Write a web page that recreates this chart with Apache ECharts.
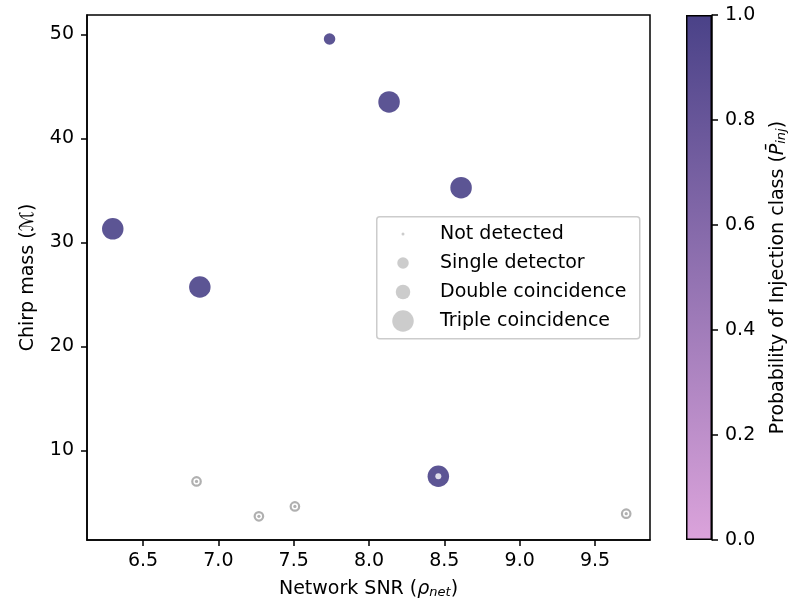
<!DOCTYPE html>
<html><head><meta charset="utf-8">
<script src="https://cdn.jsdelivr.net/npm/echarts@6/dist/echarts.min.js"></script>
<style>html,body{margin:0;padding:0;background:#fff}#c{width:788px;height:600px}</style>
</head><body><div id="c"></div>
<script>
// ---- data ----
const detSNR   = [6.299, 6.877, 7.738, 8.133, 8.611, 8.460];
const detChirp = [31.3, 25.7, 49.55, 43.5, 35.25, 7.5];
const detProb  = [1.0, 1.0, 1.0, 1.0, 1.0, 1.0];
const detClass = [3, 3, 1, 3, 3, 3]; // index into classNames
const detFlag  = [0, 0, 0, 0, 0, 1];
const undetSNR   = [6.855, 7.269, 7.508, 9.707];
const undetChirp = [7.0, 3.65, 4.6, 3.9];
const xTicks = [6.5, 7.0, 7.5, 8.0, 8.5, 9.0, 9.5];
const yTicks = [10, 20, 30, 40, 50];
const cbTicks = [0, 0.2, 0.4, 0.6, 0.8, 1.0];
const classNames = ['Not detected', 'Single detector', 'Double coincidence', 'Triple coincidence'];

// ---- styles ----
const classSizes = [3, 11.5, 14.5, 21.5];
const cLow = '#dba3db', cHigh = '#4a4288';
const grayLegend = '#bfbfbf', grayRing = '#9c9c9c';
const FONT = 'DejaVu Sans';
const FS = 19;

const chart = echarts.init(document.getElementById('c'), null, {renderer: 'canvas'});

const detData = detSNR.map((x, i) => [x, detChirp[i], detProb[i], detClass[i]]);
const flagData = detSNR.map((x, i) => [x, detChirp[i]]).filter((d, i) => detFlag[i]);
const undetData = undetSNR.map((x, i) => [x, undetChirp[i]]);

const legendRowsY = [234, 263, 292, 321];
const legends = classNames.map((n, i) => ({
  data: [{name: n, icon: 'circle'}], left: 403 - classSizes[i] / 2, top: legendRowsY[i] - 12, orient: 'vertical', padding: 0,
  itemWidth: 64, itemHeight: classSizes[i], itemGap: 5, selectedMode: false, z: 6,
  textStyle: {fontFamily: FONT, fontSize: FS, color: '#000', lineHeight: 24}
}));

const legendSeries = classNames.map((n, i) => ({
  name: n, type: 'scatter', data: [], itemStyle: {color: grayLegend}, symbol: 'circle'
}));

const richSub = {
  it: {fontSize: FS, fontStyle: 'italic', fontFamily: FONT},
  sub: {fontSize: 13, fontStyle: 'italic', fontFamily: FONT, verticalAlign: 'bottom', lineHeight: 13, padding: [10, 0, 0, 0]}
};

const option = {
  animation: false,
  backgroundColor: '#fff',
  textStyle: {fontFamily: FONT},
  grid: [
    {left: 87, right: 138, top: 15, bottom: 60, show: true, borderColor: '#000', borderWidth: 1.5, outerBoundsMode: 'none', containLabel: false},
    {left: 686, width: 26, top: 15, bottom: 60, show: false, outerBoundsMode: 'none', containLabel: false}
  ],
  legend: legends,
  visualMap: {
    type: 'continuous', show: false, min: 0, max: 1, dimension: 2, seriesIndex: 4,
    inRange: {color: [cLow, cHigh]}
  },
  xAxis: [
    {type: 'value', gridIndex: 0, min: 6.128, max: 9.865,
     axisLine: {show: true, lineStyle: {color: '#000', width: 1.5}},
     axisTick: {show: true, customValues: xTicks, length: 6, lineStyle: {color: '#000', width: 1.5}},
     axisLabel: {customValues: xTicks, formatter: v => v.toFixed(1), fontSize: FS, color: '#000', margin: 12, fontFamily: FONT},
     splitLine: {show: false},
     name: 'Network SNR ({it|ρ}{sub|net})', nameLocation: 'middle', nameGap: 40,
     nameTextStyle: {fontSize: FS, color: '#000', fontFamily: FONT, rich: richSub}
    },
    {type: 'category', gridIndex: 1, data: ['cb'], show: false}
  ],
  yAxis: [
    {type: 'value', gridIndex: 0, min: 1.37, max: 51.86,
     axisLine: {show: true, lineStyle: {color: '#000', width: 1.5}},
     axisTick: {show: true, customValues: yTicks, length: 6, lineStyle: {color: '#000', width: 1.5}},
     axisLabel: {customValues: yTicks, fontSize: FS, color: '#000', margin: 13, fontFamily: FONT},
     splitLine: {show: false},
     name: 'Chirp mass (ℳ)', nameLocation: 'middle', nameGap: 49, nameRotate: 90,
     nameTextStyle: {fontSize: FS, color: '#000', fontFamily: FONT}
    },
    {type: 'value', gridIndex: 1, min: 0, max: 1, position: 'right',
     axisLine: {show: true, lineStyle: {color: '#000', width: 1.5}},
     axisTick: {show: true, customValues: cbTicks, length: 6, lineStyle: {color: '#000', width: 1.5}},
     axisLabel: {customValues: cbTicks, formatter: v => v.toFixed(1), fontSize: FS, color: '#000', margin: 13, fontFamily: FONT},
     splitLine: {show: false},
     name: 'Probability of Injection class ({it|P̄}{sub|inj})', nameLocation: 'middle', nameGap: 57, nameRotate: 90,
     nameTextStyle: {fontSize: FS, color: '#000', fontFamily: FONT, rich: richSub}
    }
  ],
  series: [
    ...legendSeries,
    {type: 'scatter', xAxisIndex: 0, yAxisIndex: 0, data: detData, z: 3,
     symbolSize: d => classSizes[d[3]], itemStyle: {opacity: 0.9}},
    {type: 'scatter', xAxisIndex: 0, yAxisIndex: 0, data: flagData, z: 4,
     symbolSize: 6, itemStyle: {color: '#fff'}},
    {type: 'scatter', xAxisIndex: 0, yAxisIndex: 0, data: undetData, z: 3,
     symbolSize: 8.5, itemStyle: {color: '#fff', borderColor: grayRing, borderWidth: 2.2}},
    {type: 'scatter', xAxisIndex: 0, yAxisIndex: 0, data: undetData, z: 4,
     symbolSize: 3.2, itemStyle: {color: grayRing}},
    {type: 'bar', xAxisIndex: 1, yAxisIndex: 1, data: [1], barWidth: '100%', silent: true,
     itemStyle: {borderColor: '#000', borderWidth: 1.5,
       color: new echarts.graphic.LinearGradient(0, 0, 0, 1, [{offset: 0, color: cHigh}, {offset: 1, color: cLow}])}}
  ],
  graphic: [{type: 'rect', left: 376, top: 216, shape: {width: 263, height: 122, r: 3},
    style: {fill: 'rgba(255,255,255,0.8)', stroke: '#cccccc', lineWidth: 1.5}, z: 1, zlevel: 0}]
};
chart.setOption(option);
</script></body></html>
